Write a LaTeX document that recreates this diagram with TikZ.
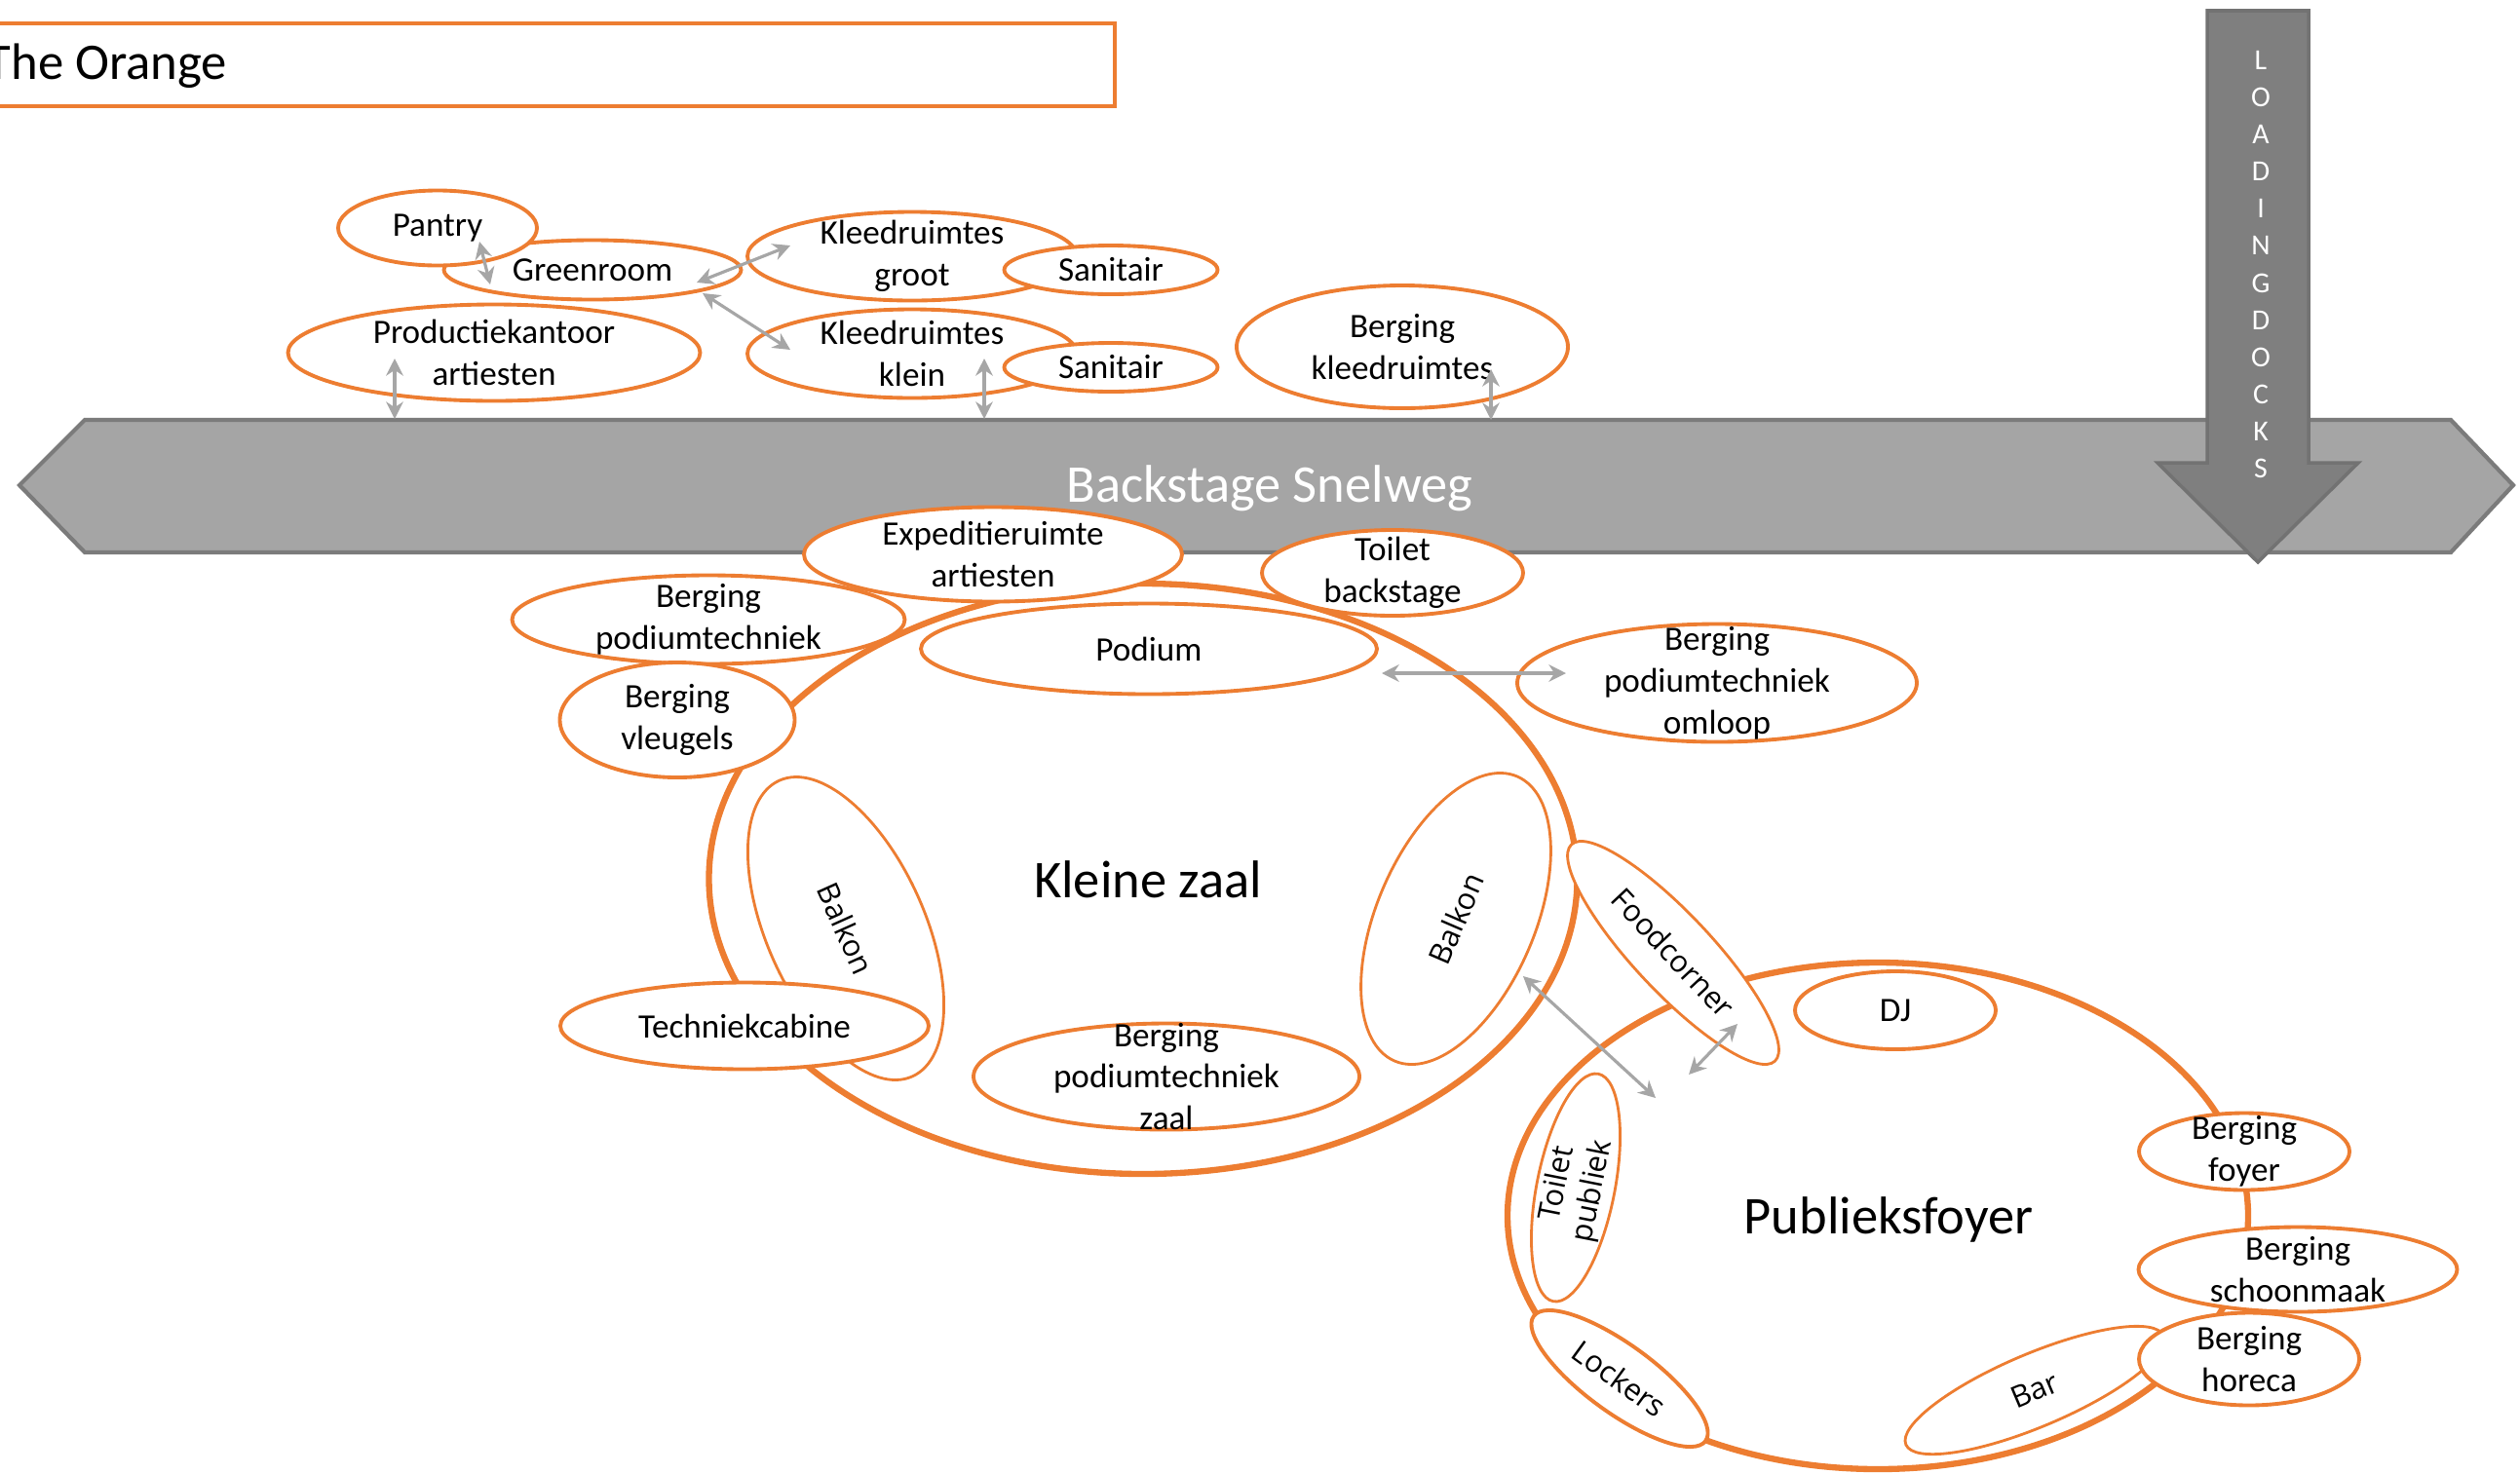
\documentclass[tikz,border=0pt]{standalone}
\usepackage{fontspec}
\setmainfont{Carlito}
\newfontfamily\rotfont{Open Sans}
\usetikzlibrary{arrows.meta, shapes.geometric}

\definecolor{oranje}{HTML}{ED7D31}
\definecolor{grijs}{HTML}{A5A5A5}
\definecolor{grijsrand}{HTML}{7B7B7B}
\definecolor{dockgrijs}{HTML}{7F7F7F}
\definecolor{dockrand}{HTML}{727272}
\definecolor{pijlgrijs}{HTML}{A6A6A6}

\begin{document}
\begin{tikzpicture}[
  font=\fontsize{10}{12.2}\selectfont,
  room/.style={ellipse, draw=oranje, fill=white, line width=1.1pt, inner sep=0pt},
  thin room/.style={room, line width=0.8pt},
  hall/.style={ellipse, draw=oranje, fill=white, line width=1.8pt, inner sep=0pt},
  lbl/.style={align=center, inner sep=0pt},
  big lbl/.style={lbl, font=\fontsize{15.5}{18}\selectfont},
  rlbl/.style={lbl, font=\rotfont\fontsize{8.8}{10.6}\selectfont},
  link/.style={{Stealth[length=5pt,width=5pt]}-{Stealth[length=5pt,width=5pt]},
               draw=pijlgrijs, line width=0.9pt},
  dock/.style={text=white, font=\fontsize{8.5}{9}\selectfont, inner sep=0pt}
]
  \useasboundingbox (0,0) rectangle (25.86,-15.12);

  % titel
  \node[draw=oranje, line width=1.1pt, inner sep=0pt, anchor=north west,
        minimum width=11.72cm, minimum height=0.85cm] (titel) at (-0.30,-0.22) {};
  \node[anchor=base west, inner sep=0pt, font=\fontsize{15}{18}\selectfont] (titel-t) at (-0.15,-0.81) {The Orange};

  % snelweg
  \draw[fill=grijs, draw=grijsrand, line width=1.2pt]
    (0.20,-4.98) -- (0.87,-4.31) -- (25.15,-4.31) -- (25.79,-4.98) -- (25.15,-5.67) -- (0.87,-5.67) -- cycle;
  \node[text=white, font=\fontsize{15.5}{18}\selectfont] (snelweg) at (13.03,-5.01) {Backstage Snelweg};

  % loading docks
  \draw[fill=dockgrijs, draw=dockrand, line width=1pt]
    (22.65,-0.11) -- (23.69,-0.11) -- (23.69,-4.75) -- (24.20,-4.75) -- (23.17,-5.77) -- (22.14,-4.75) -- (22.65,-4.75) -- cycle;
  \foreach \l [count=\i] in {L,O,A,D,I,N,G,D,O,C,K,S}
    \node[dock] (dock\i) at (23.20,{-0.615-0.3815*(\i-1)}) {\l};

  % backstage ruimtes
  \node[room, minimum width=3.05cm, minimum height=0.61cm] (green)    at (6.08,-2.77)  {};
  \node[room, minimum width=2.04cm, minimum height=0.77cm] (pantry)   at (4.49,-2.34)  {};
  \node[room, minimum width=3.38cm, minimum height=0.91cm] (kgroot)   at (9.36,-2.63)  {};
  \node[room, minimum width=2.19cm, minimum height=0.50cm] (sangroot) at (11.40,-2.77) {};
  \node[room, minimum width=4.23cm, minimum height=0.99cm] (prod)     at (5.07,-3.62)  {};
  \node[room, minimum width=3.38cm, minimum height=0.91cm] (kklein)   at (9.36,-3.63)  {};
  \node[room, minimum width=2.19cm, minimum height=0.50cm] (sanklein) at (11.40,-3.77) {};
  \node[room, minimum width=3.40cm, minimum height=1.26cm] (bkleed)   at (14.39,-3.56) {};

  % kleine zaal
  \node[hall, minimum width=8.91cm, minimum height=6.06cm] (kz) at (11.73,-9.02) {};
  \node[room, minimum width=3.88cm, minimum height=0.97cm] (exp)       at (10.19,-5.69) {};
  \node[room, minimum width=2.68cm, minimum height=0.88cm] (toiletbs)  at (14.29,-5.88) {};
  \node[room, minimum width=4.03cm, minimum height=0.91cm] (bpodium)   at (7.27,-6.36)  {};
  \node[room, minimum width=2.41cm, minimum height=1.18cm] (bvleugels) at (6.95,-7.39)  {};
  \node[room, minimum width=4.68cm, minimum height=0.93cm] (podium)    at (11.79,-6.66) {};
  \node[room, minimum width=4.10cm, minimum height=1.21cm] (bomloop)   at (17.62,-7.01) {};
  \node[thin room, rotate=-65.8, minimum width=3.33cm, minimum height=1.62cm] (balkonl) at (8.68,-9.53) {};
  \node[room, minimum width=3.78cm, minimum height=0.89cm] (techniek)  at (7.64,-10.53) {};
  \node[room, minimum width=3.96cm, minimum height=1.09cm] (bzaal)     at (11.97,-11.05) {};
  \node[thin room, rotate=66.7, minimum width=3.18cm, minimum height=1.62cm] (balkonr) at (14.94,-9.43) {};

  % publieksfoyer
  \node[hall, minimum width=7.60cm, minimum height=5.20cm] (foyer) at (19.27,-12.48) {};
  \node[thin room, rotate=-46.8, minimum width=3.05cm, minimum height=0.80cm] (food) at (17.17,-9.78) {};
  \node[room, minimum width=2.06cm, minimum height=0.80cm] (dj) at (19.45,-10.37) {};
  \node[thin room, rotate=78.8, minimum width=2.38cm, minimum height=0.80cm] (toiletpub) at (16.17,-12.19) {};
  \node[room, rotate=-36, minimum width=2.18cm, minimum height=0.70cm] (lockers) at (16.62,-14.15) {};
  \node[thin room, rotate=22.9, minimum width=2.87cm, minimum height=0.75cm] (bar) at (20.88,-14.27) {};
  \node[room, minimum width=2.16cm, minimum height=0.79cm] (bfoyer)  at (23.03,-11.82) {};
  \node[room, minimum width=3.27cm, minimum height=0.87cm] (bschoon) at (23.58,-13.03) {};
  \node[room, minimum width=2.26cm, minimum height=0.95cm] (bhoreca) at (23.08,-13.95) {};

  % namen
  \node[big lbl] (kz-t)    at (11.78,-9.03)  {Kleine zaal};
  \node[big lbl] (foyer-t) at (19.38,-12.52) {Publieksfoyer};
  \foreach \nm/\txt in {pantry/Pantry, green/Greenroom, kgroot/{Kleedruimtes\\groot},
      sangroot/Sanitair, prod/{Productiekantoor\\artiesten}, kklein/{Kleedruimtes\\klein},
      sanklein/Sanitair, bkleed/{Berging\\kleedruimtes}, exp/{Expeditieruimte\\artiesten},
      toiletbs/{Toilet\\backstage}, bpodium/{Berging\\podiumtechniek}, bvleugels/{Berging\\vleugels},
      podium/Podium, bomloop/{Berging\\podiumtechniek\\omloop}, techniek/Techniekcabine,
      bzaal/{Berging\\podiumtechniek\\zaal}, dj/DJ, bfoyer/{Berging\\foyer},
      bschoon/{Berging\\schoonmaak}, bhoreca/{Berging\\horeca}}
    \node[lbl] (\nm-t) at (\nm) {\txt};
  \node[rlbl, rotate=-65.8] (balkonl-t)   at (balkonl)   {Balkon};
  \node[rlbl, rotate=66.7]  (balkonr-t)   at (balkonr)   {Balkon};
  \node[rlbl, rotate=-46.8] (food-t)      at (food)      {Foodcorner};
  \node[rlbl, rotate=78.8]  (toiletpub-t) at (toiletpub) {Toilet\\publiek};
  \node[rlbl, rotate=-36]   (lockers-t)   at (lockers)   {Lockers};
  \node[rlbl, rotate=22.9]  (bar-t)       at (bar)       {Bar};

  % verbindingen
  \coordinate (pa1) at (4.92,-2.48);   \coordinate (pa2) at (5.03,-2.92);
  \coordinate (gk1) at (7.15,-2.90);   \coordinate (gk2) at (8.11,-2.52);
  \coordinate (gl1) at (7.21,-3.01);   \coordinate (gl2) at (8.11,-3.59);
  \coordinate (ps1) at (4.05,-3.68);   \coordinate (ps2) at (4.05,-4.30);
  \coordinate (ks1) at (10.10,-3.68);  \coordinate (ks2) at (10.10,-4.30);
  \coordinate (bs1) at (15.30,-3.79);  \coordinate (bs2) at (15.30,-4.31);
  \coordinate (po1) at (14.18,-6.91);  \coordinate (po2) at (16.07,-6.91);
  \coordinate (bf1) at (15.63,-10.02); \coordinate (bf2) at (16.99,-11.27);
  \coordinate (ff1) at (17.83,-10.51); \coordinate (ff2) at (17.33,-11.03);
  \foreach \s/\e in {pa1/pa2, gk1/gk2, gl1/gl2, ps1/ps2, ks1/ks2, bs1/bs2, po1/po2, bf1/bf2, ff1/ff2}
    \draw[link] (\s) -- (\e);
\end{tikzpicture}
\end{document}
